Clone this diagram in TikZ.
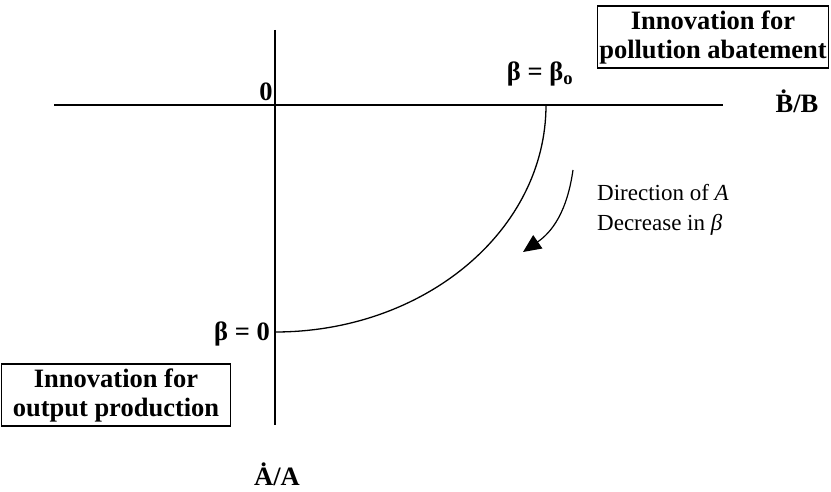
\documentclass[tikz,border=0pt]{standalone}
\usepackage{fontspec}
\setmainfont{Liberation Serif}
\usetikzlibrary{arrows.meta, positioning}

\begin{document}
\begin{tikzpicture}[
    x=1pt, y=-1pt,
    axis/.style={line width=1.6pt, black},
    lbl/.style={font=\fontsize{26.5}{29}\selectfont\bfseries, inner sep=1pt},
    tbox/.style={draw, line width=1.2pt, font=\fontsize{26.5}{29}\selectfont\bfseries,
        align=center, inner sep=2pt, minimum width=229pt, minimum height=62pt},
    note/.style={font=\fontsize{23}{30}\selectfont, align=left, inner sep=0pt},
    arrow/.style={-{Triangle[length=18pt, width=16pt]}, line width=1.2pt}
]
\useasboundingbox (0,0) rectangle (831,492);

% axes
\coordinate (o) at (275,105);
\coordinate (xl) at (54,105);
\coordinate (xr) at (723,105);
\coordinate (yt) at (275,30);
\coordinate (yb) at (275,425);
\draw[axis] (xl) -- (xr);
\draw[axis] (yt) -- (yb);

\node[lbl] (zero) at (266,92) {0};
\node[lbl] (bx) at (797,101) {\.{B}/B};
\node[lbl] (ay) at (277,474) {\.{A}/A};

% curve
\coordinate (bstart) at (546,105);
\coordinate (bend) at (275,332);
\draw[line width=1.3pt] (bstart) arc[start angle=0, end angle=90, x radius=271, y radius=227];
\node[lbl] (b0) at (540,74) {β = β\textsubscript{o}};
\node[lbl] (bzero) at (242,334) {β = 0};

% direction arrow
\coordinate (dtop) at (573,170);
\coordinate (dbot) at (523,252);
\draw[arrow] (dtop) .. controls (567,212) and (552,232) .. (dbot);
\node[note, anchor=north west] (dir) at (597,184) {Direction of \textit{A}\\Decrease in \textit{β}};

% boxes
\node[tbox] (poll) at (713,37) {Innovation for\\pollution abatement};
\node[tbox] (outp) at (116,395) {Innovation for\\output production};

\end{tikzpicture}
\end{document}
